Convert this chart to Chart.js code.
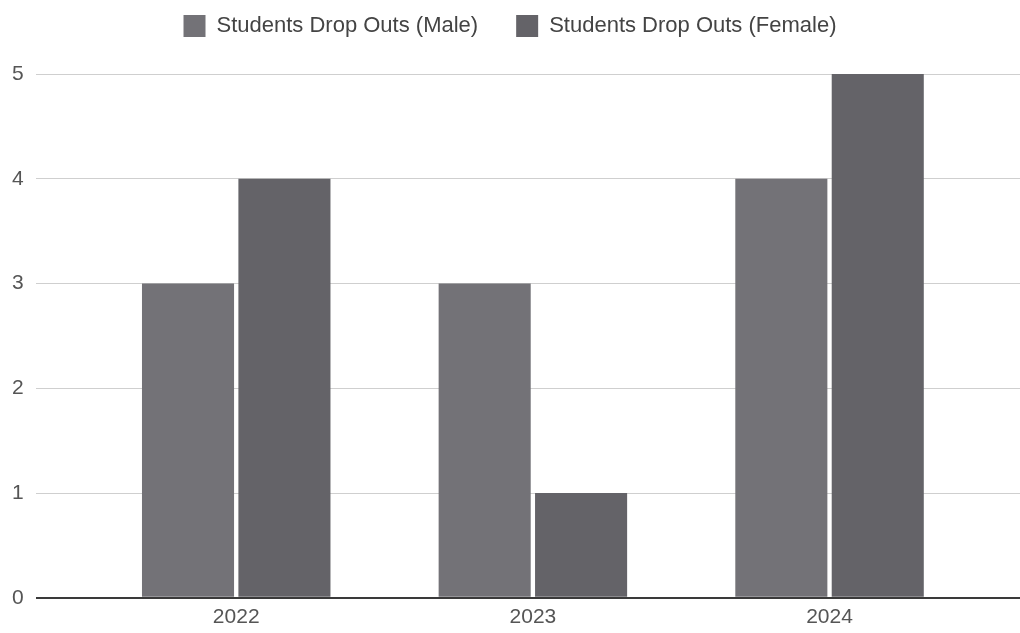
<!DOCTYPE html>
<html>
<head>
<meta charset="utf-8">
<script src="https://cdn.jsdelivr.net/npm/chart.js@4"></script>
<style>
  html, body { margin: 0; padding: 0; background: #fff; }
  #wrap { width: 1020px; height: 633px; }
</style>
</head>
<body>
<div id="wrap"><canvas class="chart"></canvas></div>
<script>
const years = ['2022', '2023', '2024'];
const maleDropOuts = [3, 3, 4];
const femaleDropOuts = [4, 1, 5];
const yTicks = [0, 1, 2, 3, 4, 5];

// bars sit on a linear x axis so the grid can run past the outer groups
const toPoints = (vals) => vals.map((v, i) => ({ x: i, y: v }));

const fontFamily = '"Liberation Sans", Arial, sans-serif';

// a bit more room under the legend
const legendGap = {
    id: 'legendGap',
    beforeInit(chart) {
        const fit = chart.legend.fit;
        chart.legend.fit = function () {
            fit.bind(chart.legend)();
            this.height += 27;
        };
    }
};

const ctx = document.getElementsByClassName('chart')[0].getContext('2d');
const dropOutChart = new Chart(ctx, {
    type: 'bar',
    data: {
        datasets: [{
            label: 'Students Drop Outs (Male)',
            data: toPoints(maleDropOuts),
            backgroundColor: '#737277',
            categoryPercentage: 0.65,
            barPercentage: 0.955
        }, {
            label: 'Students Drop Outs (Female)',
            data: toPoints(femaleDropOuts),
            backgroundColor: '#646368',
            categoryPercentage: 0.65,
            barPercentage: 0.955
        }]
    },
    plugins: [legendGap],
    options: {
        responsive: true,
        maintainAspectRatio: false,
        animation: false,
        layout: { padding: { left: 0, right: 0, top: -23, bottom: -4 } },
        plugins: {
            tooltip: { enabled: false },
            legend: {
                position: 'top',
                labels: {
                    boxWidth: 22,
                    boxHeight: 22,
                    padding: 38,
                    color: '#444',
                    font: { size: 22, family: fontFamily }
                }
            }
        },
        scales: {
            x: {
                type: 'linear',
                offset: false,
                min: -0.676,
                max: 2.642,
                afterBuildTicks: (axis) => { axis.ticks = years.map((y, i) => ({ value: i })); },
                ticks: {
                    callback: (v) => years[v],
                    color: '#555',
                    padding: 7,
                    font: { size: 21, family: fontFamily }
                },
                grid: { display: false, drawTicks: false },
                border: { display: false }
            },
            y: {
                min: 0,
                max: 5,
                afterBuildTicks: (axis) => { axis.ticks = yTicks.map(v => ({ value: v })); },
                ticks: {
                    color: '#555',
                    padding: 12,
                    font: { size: 21, family: fontFamily }
                },
                grid: {
                    drawTicks: false,
                    color: (c) => c.tick.value === 0 ? '#3a3a3a' : '#cfcfcf',
                    lineWidth: (c) => c.tick.value === 0 ? 2 : 1
                },
                border: { display: false }
            }
        }
    }
});
</script>
</body>
</html>
